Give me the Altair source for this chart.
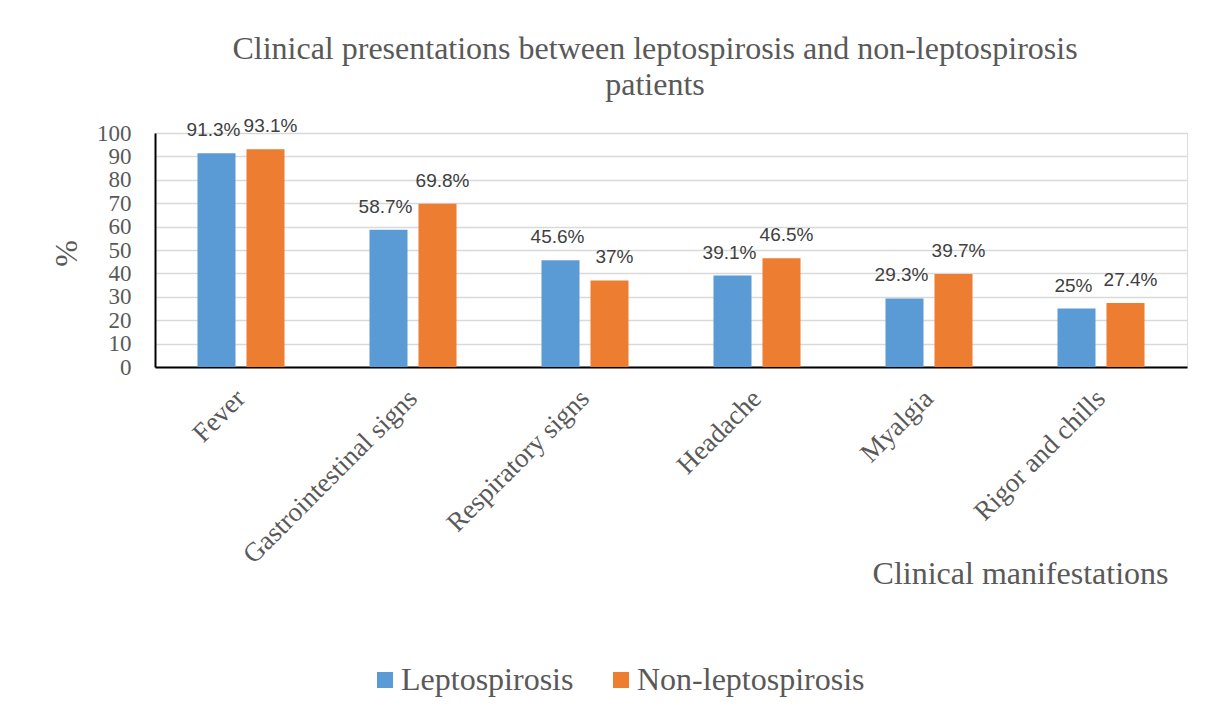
import altair as alt
import pandas as pd

categories = ["Fever", "Gastrointestinal signs", "Respiratory signs", "Headache", "Myalgia", "Rigor and chills"]
series = ["Leptospirosis", "Non-leptospirosis"]
lepto = [91.3, 58.7, 45.6, 39.1, 29.3, 25]
non_lepto = [93.1, 69.8, 37, 46.5, 39.7, 27.4]
colors = ["#5b9bd5", "#ed7d31"]
y_ticks = [0, 10, 20, 30, 40, 50, 60, 70, 80, 90, 100]

rows = []
for i, c in enumerate(categories):
    rows.append({"cat": c, "series": series[0], "value": lepto[i]})
    rows.append({"cat": c, "series": series[1], "value": non_lepto[i]})
df = pd.DataFrame(rows)

SERIF = "Liberation Serif"
SANS = "Liberation Sans"
GRAY = "#595959"

x_enc = alt.X(
    "cat:N",
    sort=categories,
    scale=alt.Scale(paddingInner=0.494, paddingOuter=0.247),
    axis=alt.Axis(
        title="Clinical manifestations",
        labelAngle=-45,
        labelAlign="right",
        labelBaseline="middle",
        labelFont=SERIF,
        labelFontSize=27,
        labelColor=GRAY,
        labelPadding=27,
        labelLimit=400,
        labelOverlap=False,
        ticks=False,
        domainColor="#000000",
        domainWidth=2,
        grid=False,
        titleFont=SERIF,
        titleFontSize=32,
        titleFontWeight="normal",
        titleColor=GRAY,
        titleAlign="right",
        titleAnchor="end",
        titleBaseline="alphabetic",
        titleX=1013,
        titleY=216,
        titleAngle=0,
    ),
)
xoff_enc = alt.XOffset("series:N", sort=series, scale=alt.Scale(paddingInner=0.224, paddingOuter=0))

y_enc = alt.Y(
    "value:Q",
    scale=alt.Scale(domain=[0, 100]),
    axis=alt.Axis(
        title="%",
        values=y_ticks,
        labelOverlap=False,
        labelFlush=False,
        labelFont=SERIF,
        labelFontSize=23,
        labelColor=GRAY,
        labelPadding=24,
        ticks=False,
        domainColor="#000000",
        domainWidth=2,
        grid=True,
        gridColor="#d9d9d9",
        gridWidth=1.5,
        titleFont=SERIF,
        titleFontSize=32,
        titleFontWeight="normal",
        titleColor=GRAY,
        titleAngle=-90,
        titleAlign="center",
        titleBaseline="middle",
        titleX=-89,
        titleY=120,
    ),
)

bars = alt.Chart(df).mark_bar().encode(
    x=x_enc,
    xOffset=xoff_enc,
    y=y_enc,
    color=alt.Color(
        "series:N",
        sort=series,
        scale=alt.Scale(domain=series, range=colors),
        legend=alt.Legend(
            title=None,
            orient="none",
            direction="horizontal",
            legendX=214,
            legendY=531,
            symbolType="square",
            symbolSize=256,
            symbolStrokeWidth=0,
            labelFont=SERIF,
            labelFontSize=32,
            labelColor=GRAY,
            labelOffset=0,
            labelLimit=400,
            columnPadding=31,
            padding=0,
        ),
    ),
)

def label_layer(name, dx):
    return alt.Chart(df).transform_filter(
        alt.datum.series == name
    ).transform_calculate(
        label="datum.value + '%'"
    ).mark_text(
        font=SANS, fontSize=19, color="#404040", align="center", baseline="alphabetic", dy=-17, dx=dx
    ).encode(
        x=x_enc,
        xOffset=xoff_enc,
        y=y_enc,
        text="label:N",
    )

chart = alt.layer(bars, label_layer(series[0], -3), label_layer(series[1], 5)).properties(
    width=1032,
    height=234,
    autosize=alt.AutoSizeParams(type="none"),
    padding={"left": 147, "top": 125, "right": 22, "bottom": 344},
    title=alt.Title(
        text=["Clinical presentations between leptospirosis and non-leptospirosis", "patients"],
        font=SERIF,
        fontSize=32,
        fontWeight="normal",
        color=GRAY,
        anchor="middle",
        lineHeight=36,
        offset=15,
        dx=-16,
    ),
).configure_view(stroke=None).configure(background="white")

chart.save("out.html", embed_options={"renderer": "svg", "actions": False})
